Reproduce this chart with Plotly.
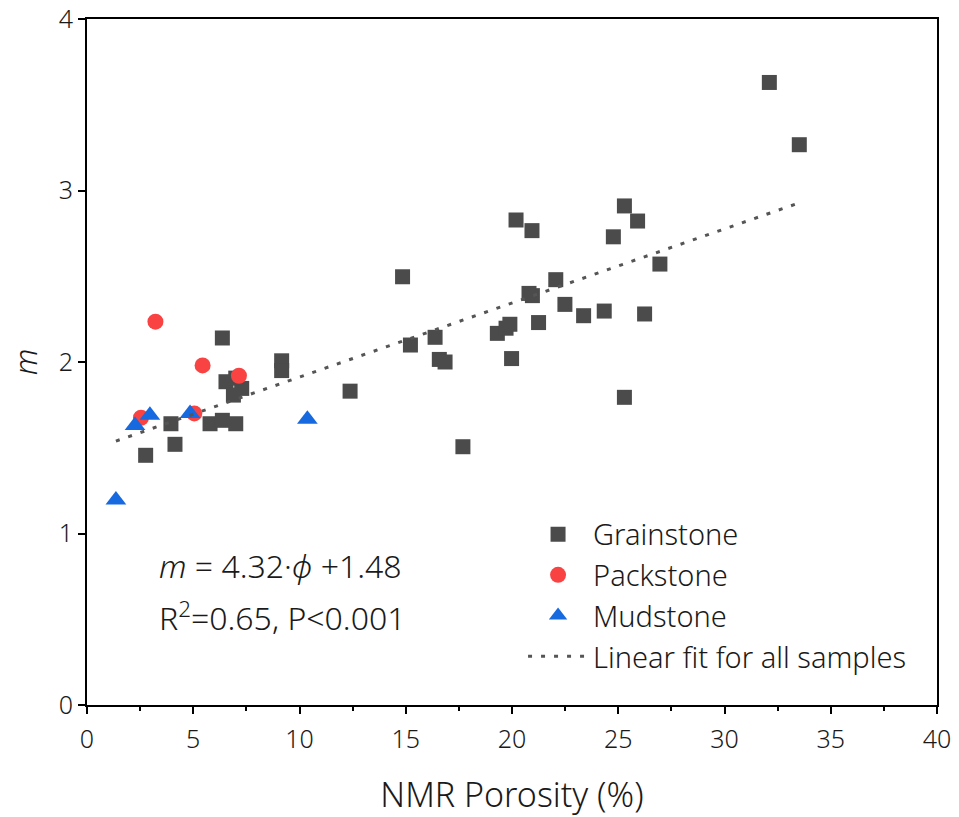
import plotly.graph_objects as go
import numpy as np

# Grainstone samples (NMR porosity %, m)
grain_x = [2.76, 3.95, 4.14, 5.79, 6.37, 7.0, 6.37, 9.16, 9.16, 6.54, 7.28, 6.89, 7.0,
           12.38, 14.85, 15.22, 16.38, 16.58, 16.85, 17.69, 19.31, 19.72, 19.9, 19.98,
           20.19, 20.8, 20.96, 20.94, 21.25, 22.06, 22.49, 23.37, 24.34, 24.77, 25.29,
           25.29, 25.91, 26.24, 26.96, 32.11, 33.52]
grain_y = [1.456, 1.64, 1.52, 1.64, 1.66, 1.64, 2.14, 2.007, 1.95, 1.885, 1.846, 1.807, 1.906,
           1.83, 2.497, 2.099, 2.144, 2.015, 2.0, 1.506, 2.167, 2.197, 2.22, 2.02,
           2.828, 2.40, 2.387, 2.766, 2.23, 2.48, 2.336, 2.27, 2.297, 2.73, 2.91,
           1.794, 2.822, 2.28, 2.571, 3.63, 3.267]

# Packstone samples
pack_x = [3.22, 5.44, 7.15, 2.54, 5.05]
pack_y = [2.235, 1.98, 1.92, 1.675, 1.70]

# Mudstone samples
mud_x = [1.36, 2.26, 2.96, 4.85, 10.37]
mud_y = [1.195, 1.63, 1.69, 1.70, 1.666]

# Linear fit reported on chart: m = 4.32*phi + 1.48 (phi as fraction)
fit_slope = 4.32
fit_intercept = 1.48

x_ticks = [0, 5, 10, 15, 20, 25, 30, 35, 40]
y_ticks = [0, 1, 2, 3, 4]

all_x = grain_x + pack_x + mud_x
fit_x = np.array([min(all_x), max(all_x)])
fit_y = fit_slope * fit_x / 100.0 + fit_intercept

FONT = "Noto Sans"
TXT = "#1a1a1a"

fig = go.Figure()
fig.add_trace(go.Scatter(x=grain_x, y=grain_y, mode="markers", name="Grainstone",
                         legendgroup="g1",
                         marker=dict(symbol="square", size=15, color="#4b4b4b")))
fig.add_trace(go.Scatter(x=pack_x, y=pack_y, mode="markers", name="Packstone",
                         legendgroup="g2",
                         marker=dict(symbol="circle", size=16, color="#f94343")))
fig.add_trace(go.Scatter(x=mud_x, y=mud_y, mode="markers", name="Mudstone",
                         legendgroup="g3",
                         marker=dict(symbol="triangle-up", size=18, color="#1769e0")))
fig.add_trace(go.Scatter(x=fit_x, y=fit_y, mode="lines", name="Linear fit for all samples",
                         legendgroup="g4",
                         line=dict(color="#555555", width=3, dash="4px,9px")))

fig.add_annotation(
    x=0.082, y=(705 - 565) / 686, xref="paper", yref="paper", xanchor="left", yanchor="middle",
    align="left", showarrow=False,
    text="<i>m</i> = 4.32·<i>ϕ</i> +1.48",
    font=dict(family=FONT, size=32, color=TXT, weight=300),
)
fig.add_annotation(
    x=0.082, y=(705 - 616) / 686, xref="paper", yref="paper", xanchor="left", yanchor="middle",
    align="left", showarrow=False,
    text="R<sup>2</sup>=0.65, P&lt;0.001",
    font=dict(family=FONT, size=32, color=TXT, weight=300),
)

axis_common = dict(
    showline=True, linecolor="black", linewidth=2, mirror=True,
    ticks="outside", ticklen=7, tickwidth=2, tickcolor="black",
    showgrid=False, zeroline=False, automargin=False,
    tickfont=dict(family=FONT, size=25, color=TXT, weight=300),
)

fig.update_xaxes(
    range=[0, 40], tickvals=x_ticks, ticklabelstandoff=4,
    title=dict(text="NMR Porosity (%)", font=dict(family=FONT, size=34, color=TXT, weight=300), standoff=30),
    minor=dict(dtick=2.5, ticks="outside", ticklen=4, tickwidth=2, tickcolor="black"),
    **axis_common,
)
fig.update_yaxes(
    range=[0, 4], tickvals=y_ticks,
    title=dict(text="<i>m</i>", font=dict(family=FONT, size=31, color=TXT, weight=300), standoff=12),
    **axis_common,
)

fig.update_layout(
    width=959, height=817,
    margin=dict(l=87, r=22, t=19, b=112),
    plot_bgcolor="white", paper_bgcolor="white",
    showlegend=True,
    legend=dict(
        x=0.513, y=0.286, xanchor="left", yanchor="top",
        font=dict(family=FONT, size=29, color=TXT, weight=300),
        bgcolor="rgba(0,0,0,0)", borderwidth=0,
        itemwidth=60, traceorder="grouped", tracegroupgap=0,
    ),
)

fig.write_html("out.html")
